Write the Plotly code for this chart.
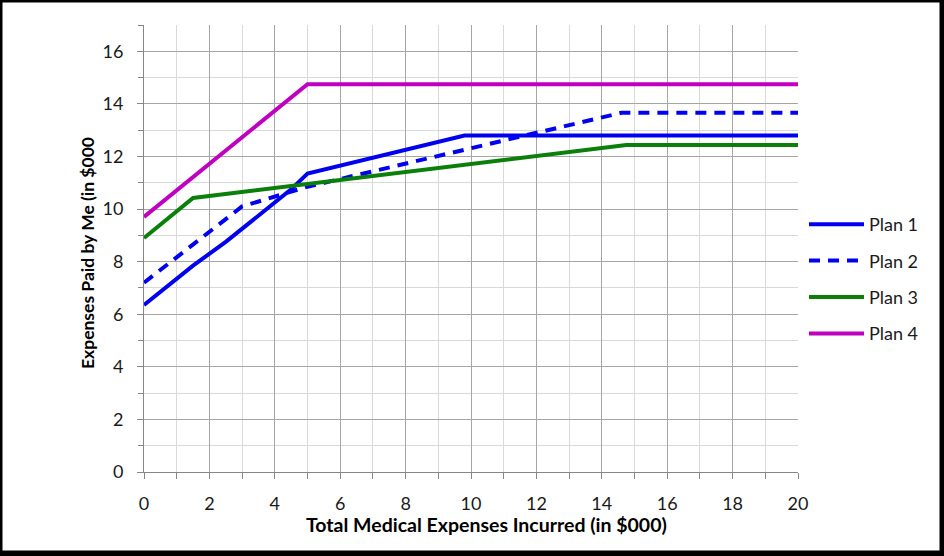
import plotly.graph_objects as go

# Data (x in $000, y in $000)
plan1_x = [0, 1.5, 2.5, 4.5, 5, 9.8, 20]
plan1_y = [6.35, 7.85, 8.75, 10.75, 11.35, 12.8, 12.8]

plan2_x = [0, 3, 5, 14.6, 20]
plan2_y = [7.2, 10.1, 10.85, 13.66, 13.66]

plan3_x = [0, 1.5, 14.75, 20]
plan3_y = [8.9, 10.42, 12.44, 12.44]

plan4_x = [0, 5, 20]
plan4_y = [9.7, 14.75, 14.75]

series_names = ["Plan 1", "Plan 2", "Plan 3", "Plan 4"]
colors = ["#0000F0", "#0000F0", "#0A800A", "#C000C0"]

x_title = "Total Medical Expenses Incurred (in $000)"
y_title = "Expenses Paid by Me (in $000"

FONT = "Lato, Carlito, Calibri, sans-serif"

W, H = 944, 556
L, R, T, B = 144, 146, 25, 84
PW, PH = W - L - R, H - T - B


def px_x(p):
    return (p - L) / PW


def px_y(p):
    return (H - B - p) / PH


fig = go.Figure()
data = [(plan1_x, plan1_y, "solid"), (plan2_x, plan2_y, "11px,8px"),
        (plan3_x, plan3_y, "solid"), (plan4_x, plan4_y, "solid")]
for i, (xs, ys, dash) in enumerate(data):
    fig.add_trace(go.Scatter(
        x=xs, y=ys, mode="lines", name=series_names[i],
        legendgroup=series_names[i],
        line=dict(color=colors[i], width=4, dash=dash),
    ))

axis_common = dict(
    showline=True, linecolor="#868686", linewidth=1,
    gridcolor="#A6A6A6", gridwidth=1,
    ticks="outside", ticklen=6, tickcolor="#868686",
    tickfont=dict(family=FONT, size=18, color="#1a1a1a"),
    zeroline=False,
)

fig.update_layout(
    width=W, height=H,
    margin=dict(l=L, r=R, t=T, b=B),
    paper_bgcolor="white", plot_bgcolor="white",
    font=dict(family=FONT),
    xaxis=dict(range=[0, 20], dtick=2, tick0=0, ticklabelstandoff=9,
               minor=dict(dtick=1, showgrid=True, gridcolor="#D9D9D9",
                          ticks="outside", ticklen=6, tickcolor="#868686"),
               **axis_common),
    xaxis2=dict(range=[0, 20], dtick=1, tick0=0, overlaying="x", anchor="y",
                side="bottom", ticks="inside", ticklen=5, tickcolor="#868686",
                showticklabels=False, showgrid=False, showline=False,
                zeroline=False),
    yaxis=dict(range=[0, 17], dtick=2, tick0=0, ticklabelstandoff=10,
               minor=dict(dtick=1, showgrid=True, gridcolor="#D9D9D9",
                          ticks="outside", ticklen=5, tickcolor="#868686"),
               **axis_common),
    legend=dict(x=px_x(804), y=px_y(206), xanchor="left", yanchor="top",
                font=dict(family=FONT, size=18, color="#1a1a1a"),
                traceorder="grouped", tracegroupgap=10, itemwidth=55,
                bgcolor="rgba(0,0,0,0)"),
    showlegend=True,
    annotations=[
        dict(text="<b>" + x_title + "</b>", xref="paper", yref="paper",
             x=px_x(486), y=px_y(524), xanchor="center", yanchor="middle",
             showarrow=False,
             font=dict(family=FONT, size=19.5, color="black")),
        dict(text="<b>" + y_title + "</b>", xref="paper", yref="paper",
             x=px_x(88), y=px_y(253), xanchor="center", yanchor="middle",
             showarrow=False, textangle=-90,
             font=dict(family=FONT, size=17.5, color="black")),
    ],
    shapes=[
        dict(type="rect", xref="paper", yref="paper", x0=px_x(0), x1=px_x(2.5),
             y0=px_y(0), y1=px_y(H), fillcolor="black", line_width=0),
        dict(type="rect", xref="paper", yref="paper", x0=px_x(0), x1=px_x(W),
             y0=px_y(0), y1=px_y(2.5), fillcolor="black", line_width=0),
        dict(type="rect", xref="paper", yref="paper", x0=px_x(939.5), x1=px_x(W),
             y0=px_y(0), y1=px_y(H), fillcolor="black", line_width=0),
        dict(type="rect", xref="paper", yref="paper", x0=px_x(0), x1=px_x(W),
             y0=px_y(550.5), y1=px_y(H), fillcolor="black", line_width=0),
    ],
)

fig.write_html("out.html", config={"displayModeBar": False},
               post_script="document.body.style.margin='0';"
                           "document.body.style.overflow='hidden';")
